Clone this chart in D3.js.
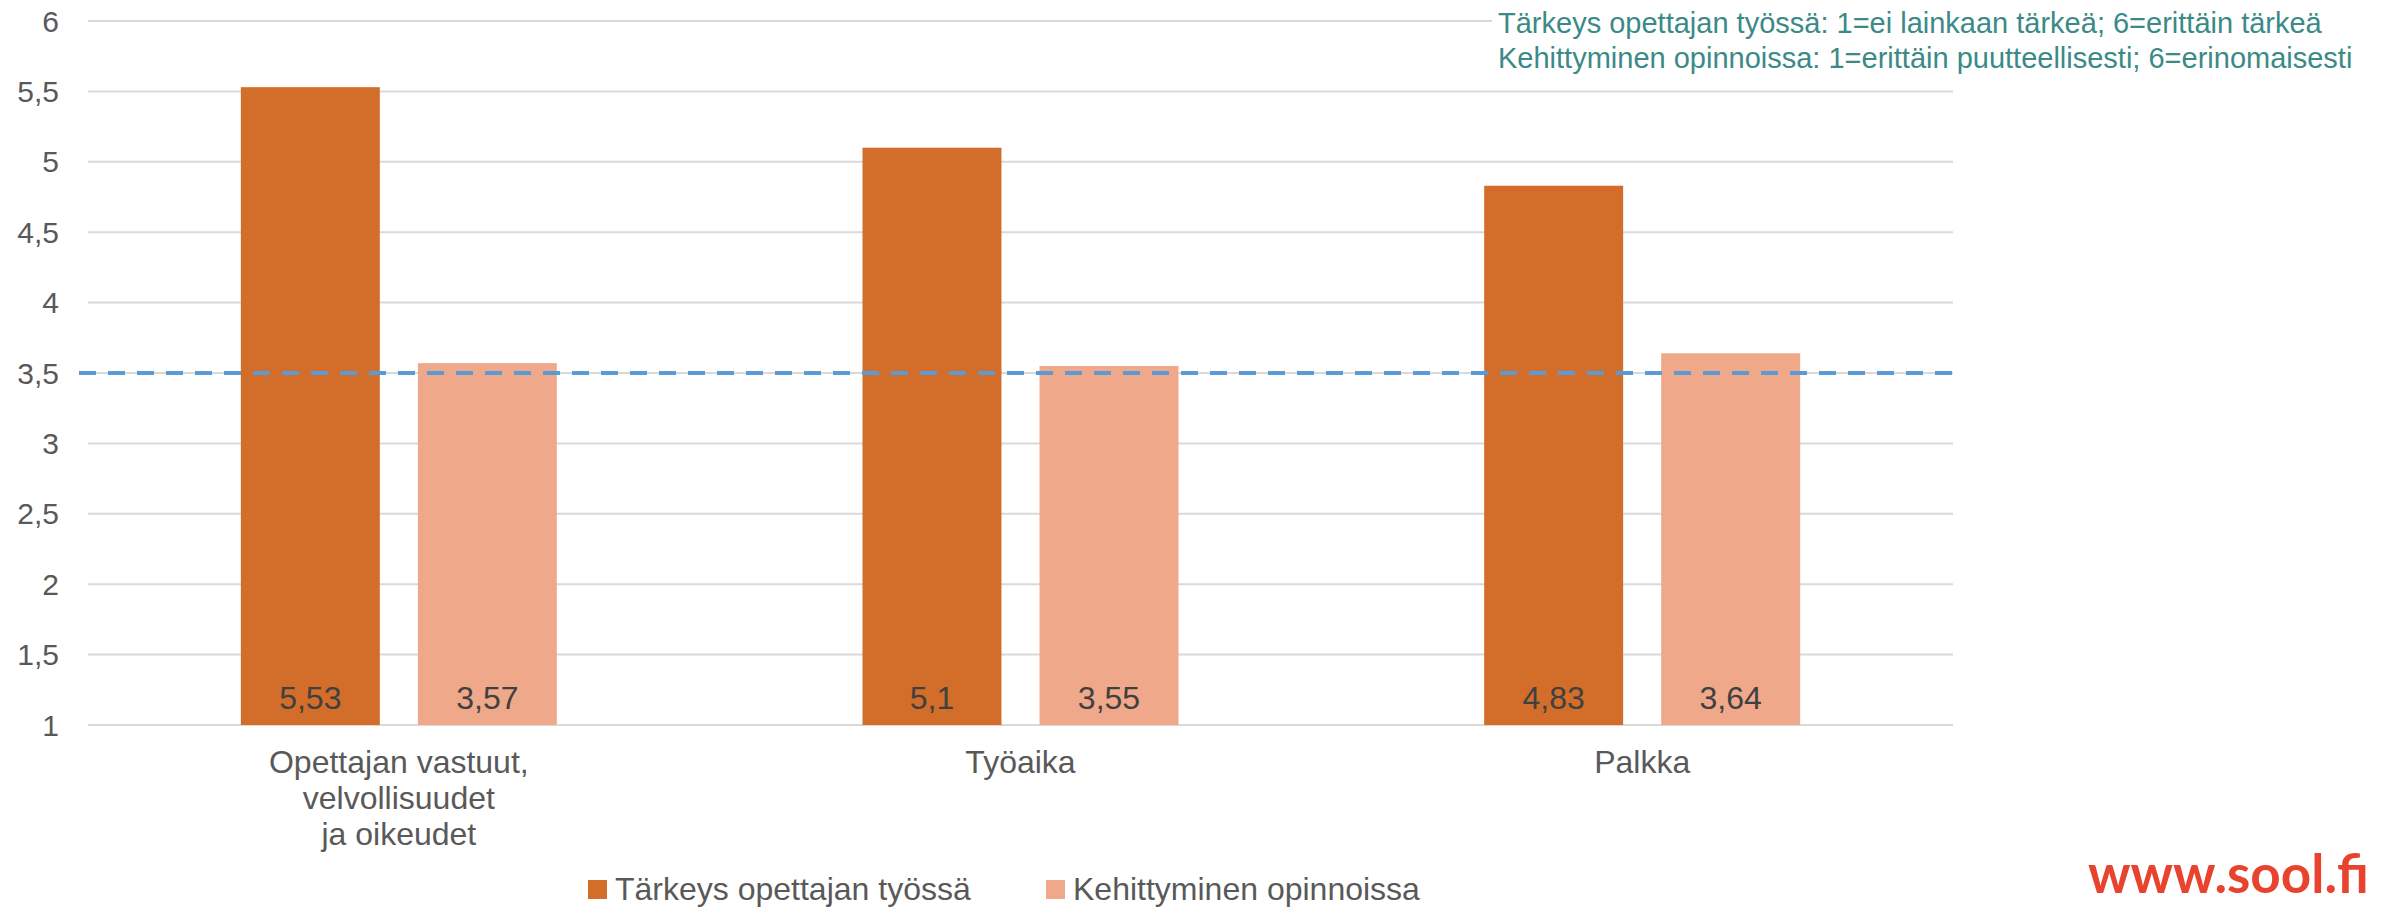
<!DOCTYPE html>
<html><head><meta charset="utf-8">
<script src="https://cdn.jsdelivr.net/npm/d3@7"></script>
<style>
html,body{margin:0;padding:0;background:#fff;}
svg{display:block;font-family:"Liberation Sans",Arial,sans-serif;}
</style></head>
<body>
<svg id="chart" width="2385" height="911"></svg>
<script>
const categories = [["Opettajan vastuut,","velvollisuudet","ja oikeudet"],["Työaika"],["Palkka"]];
const categoryKeys = ["Opettajan vastuut, velvollisuudet ja oikeudet","Työaika","Palkka"];
const seriesNames = ["Tärkeys opettajan työssä","Kehittyminen opinnoissa"];
const tarkeys = [5.53, 5.1, 4.83];
const kehittyminen = [3.57, 3.55, 3.64];
const referenceValue = 3.5;
const yTicks = [1,1.5,2,2.5,3,3.5,4,4.5,5,5.5,6];
const noteLines = ["Tärkeys opettajan työssä: 1=ei lainkaan tärkeä; 6=erittäin tärkeä",
                   "Kehittyminen opinnoissa: 1=erittäin puutteellisesti; 6=erinomaisesti"];
const logoText = "www.sool.fi";
const colors = ["#D26E2A","#F0A88A"];

(function(){
const svg = d3.select("#chart");
const pL = 88, pR = 1953, pT = 21, pB = 725;
const fmt = v => String(v).replace(".", ",");

const y = d3.scaleLinear().domain([1,6]).range([pB, pT]);
const x0 = d3.scaleBand().domain(categoryKeys).range([pL, pR]).paddingInner(0.4917).paddingOuter(0.4917/2);
const x1 = d3.scaleBand().domain(seriesNames).range([0, x0.bandwidth()]).paddingInner(0.215);

// gridlines
svg.append("g").selectAll("line").data(yTicks).join("line")
  .attr("x1", pL).attr("x2", pR)
  .attr("y1", d => y(d)).attr("y2", d => y(d))
  .attr("stroke", "#D9D9D9").attr("stroke-width", 2);

// y tick labels
svg.append("g").selectAll("text").data(yTicks).join("text")
  .attr("x", 59).attr("y", d => y(d)).attr("dy", "0.35em")
  .attr("text-anchor", "end").attr("font-size", 30).attr("fill", "#595959")
  .text(d => fmt(d));

// bars
const data = categoryKeys.map((c,i) => ({cat:c, vals:[tarkeys[i], kehittyminen[i]]}));
const groups = svg.append("g").selectAll("g").data(data).join("g")
  .attr("transform", d => `translate(${x0(d.cat)},0)`);
groups.selectAll("rect").data(d => d.vals.map((v,j) => ({s:seriesNames[j], v, j}))).join("rect")
  .attr("x", d => x1(d.s)).attr("width", x1.bandwidth())
  .attr("y", d => y(d.v)).attr("height", d => y(1) - y(d.v))
  .attr("fill", d => colors[d.j]);
groups.selectAll("text").data(d => d.vals.map((v,j) => ({s:seriesNames[j], v, j}))).join("text")
  .attr("x", d => x1(d.s) + x1.bandwidth()/2).attr("y", y(1) - 16)
  .attr("text-anchor", "middle").attr("font-size", 32).attr("fill", "#404040")
  .text(d => fmt(d.v));

// reference dashed line
svg.append("line")
  .attr("x1", 79).attr("x2", 1960)
  .attr("y1", y(referenceValue)).attr("y2", y(referenceValue))
  .attr("stroke", "#5B9BD5").attr("stroke-width", 4)
  .attr("stroke-dasharray", "17,12");

// category labels
const catG = svg.append("g").selectAll("text").data(categories).join("text")
  .attr("x", (d,i) => x0(categoryKeys[i]) + x0.bandwidth()/2)
  .attr("text-anchor", "middle").attr("font-size", 32).attr("fill", "#595959");
catG.selectAll("tspan").data(d => d).join("tspan")
  .attr("x", function(){ return d3.select(this.parentNode).attr("x"); })
  .attr("y", (d,k) => 773 + k*36)
  .text(d => d);

// note box
svg.append("rect").attr("x", 1492).attr("y", 0).attr("width", 893).attr("height", 78).attr("fill", "#fff");
svg.append("g").selectAll("text").data(noteLines).join("text")
  .attr("x", 1498).attr("y", (d,i) => 23 + i*35).attr("dy", "0.35em")
  .attr("font-size", 29).attr("fill", "#3B8A87")
  .text(d => d);

// legend
const legX = [588, 1046];
const leg = svg.append("g").selectAll("g").data(seriesNames).join("g")
  .attr("transform", (d,i) => `translate(${legX[i]},0)`);
leg.append("rect").attr("x", 0).attr("y", 880).attr("width", 19).attr("height", 19)
  .attr("fill", (d,i) => colors[i]);
leg.append("text").attr("x", 27).attr("y", 900)
  .attr("font-size", 32).attr("fill", "#595959").text(d => d);

// logo
svg.append("text").attr("x", 2088).attr("y", 893)
  .attr("font-family", "Lato, 'Open Sans', sans-serif").attr("font-weight", 700)
  .attr("font-size", 53).attr("fill", "#E8432E").text(logoText);
})();
</script>
</body></html>
